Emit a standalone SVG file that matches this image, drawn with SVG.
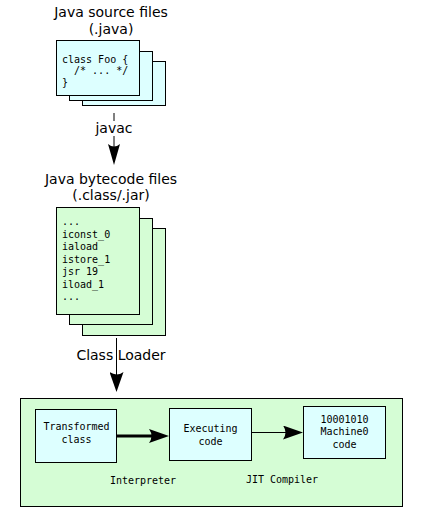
<svg xmlns="http://www.w3.org/2000/svg" width="433" height="520" viewBox="0 0 433 520">
<style>
.title{font-family:"DejaVu Sans","Liberation Sans",sans-serif;font-size:14px;fill:#000;text-anchor:middle}
.code{font-family:"DejaVu Sans Mono","Liberation Mono",monospace;font-size:10px;fill:#000}
.codec{font-family:"DejaVu Sans Mono","Liberation Mono",monospace;font-size:10px;fill:#000;text-anchor:middle}
.cyan{fill:#ddffff;stroke:#000;stroke-width:1}
.green{fill:#d5fdd5;stroke:#000;stroke-width:1}
.conn{stroke:#000;fill:none}
</style>
<defs>
<marker id="ah" viewBox="0 0 20 14" refX="12" refY="7" markerWidth="20" markerHeight="14" orient="auto" markerUnits="userSpaceOnUse">
<path d="M20,7 L0,0 Q5,7 0,14 Z" fill="#000"/>
</marker>
<marker id="ahv" viewBox="0 0 21 12" refX="12" refY="6" markerWidth="21" markerHeight="12" orient="auto" markerUnits="userSpaceOnUse">
<path d="M21,6 L0,0 Q5,6 0,12 Z" fill="#000"/>
</marker>
</defs>
<rect width="433" height="520" fill="#fff"/>

<g id="source-files">
<text class="title" x="111" y="17">Java source files</text>
<text class="title" x="111" y="34">(.java)</text>
<rect class="cyan" x="82.5" y="61.5" width="83" height="44"/>
<rect class="cyan" x="69.5" y="51.5" width="83" height="49"/>
<rect class="cyan" x="56.5" y="40.5" width="83" height="55"/>
<text class="code" x="62" y="62.5">class Foo {</text>
<text class="code" x="62" y="74" xml:space="preserve">  /* ... */</text>
<text class="code" x="62" y="85.5">}</text>
</g>

<g id="bytecode-files">
<text class="title" x="111" y="184">Java bytecode files</text>
<text class="title" x="111" y="200">(.class/.jar)</text>
<rect class="green" x="82.5" y="228.5" width="83" height="107"/>
<rect class="green" x="69.5" y="218.5" width="83" height="106"/>
<rect class="green" x="56.5" y="207.5" width="83" height="107"/>
<text class="code" x="62" y="225">...</text>
<text class="code" x="62" y="237.5">iconst_0</text>
<text class="code" x="62" y="250">iaload</text>
<text class="code" x="62" y="262.5">istore_1</text>
<text class="code" x="62" y="275">jsr 19</text>
<text class="code" x="62" y="287.5">iload_1</text>
<text class="code" x="62" y="300">...</text>
</g>

<g id="jvm">
<rect class="green" x="20.5" y="398.5" width="382" height="108"/>
<text class="codec" x="143" y="484">Interpreter</text>
<text class="codec" x="282" y="483">JIT Compiler</text>
</g>

<g id="transformed-class">
<rect class="cyan" x="35.5" y="409.5" width="81" height="53"/>
<text class="codec" x="76.5" y="430">Transformed</text>
<text class="codec" x="76.5" y="443">class</text>
</g>

<g id="executing-code">
<rect class="cyan" x="169.5" y="408.5" width="82" height="52"/>
<text class="codec" x="210.5" y="432">Executing</text>
<text class="codec" x="210.5" y="445">code</text>
</g>

<g id="machine-code">
<rect class="cyan" x="303.5" y="406.5" width="82" height="52"/>
<text class="codec" x="344.5" y="422.5">10001010</text>
<text class="codec" x="344.5" y="435">Machine0</text>
<text class="codec" x="344.5" y="447.5">code</text>
</g>

<g id="connectors">
<line class="conn" x1="114" y1="113" x2="114" y2="156" marker-end="url(#ahv)" stroke-width="1"/>
<rect x="94" y="121" width="40" height="15" fill="#fff"/>
<text class="title" x="114" y="133">javac</text>
<line class="conn" x1="116.5" y1="338" x2="116.5" y2="384" marker-end="url(#ah)" stroke-width="1"/>
<text class="title" x="121" y="360">Class Loader</text>
<line class="conn" x1="117" y1="436" x2="161" y2="436" marker-end="url(#ah)" stroke-width="3"/>
<line class="conn" x1="252" y1="432.5" x2="295" y2="432.5" marker-end="url(#ah)" stroke-width="1"/>
</g>
</svg>
